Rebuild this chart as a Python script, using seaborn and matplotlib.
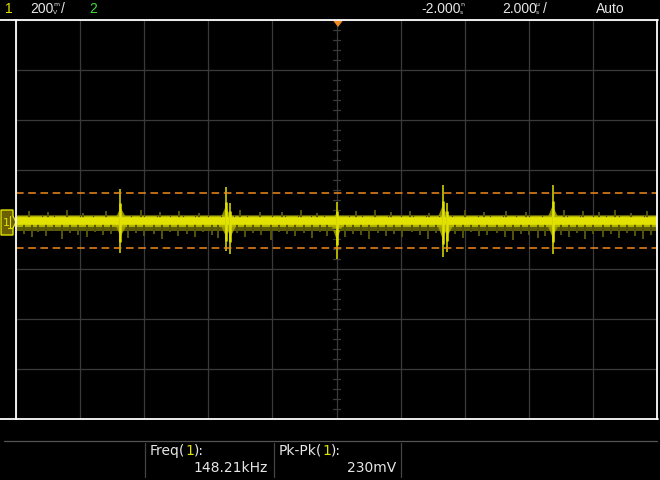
import numpy as np
import pandas as pd
import matplotlib
matplotlib.use('Agg')
import matplotlib.pyplot as plt
import seaborn as sns
from matplotlib.patches import Polygon

# scope settings
volts_per_div = 200      # mV
time_per_div = 2.0       # us
trig_delay_label = '-2.000'
freq_label = '148.21kHz'
pkpk_label = '230mV'

# trace (time in us, voltage in mV)
band_t = [-10, 10]
trace_level = -8
mid_half = 22
dim_top = 26
dim_bottom = -40

spike_t = [-6.74, -3.46, -3.31, 0.0, 3.31, 3.46, 6.74]
spike_hi = [124, 132, 68, 72, 140, 68, 140]
spike_lo = [-136, -128, -140, -160, -152, -132, -140]

noise_lo_t = [-9.75, -9.5, -9.3, -9.05, -8.8, -8.55, -8.3, -8.05, -7.8, -7.55, -7.3, -7.05,
              -6.5, -6.25, -6.0, -5.7, -5.45, -5.2, -4.95, -4.65, -4.4, -4.15, -3.9, -3.7,
              -3.1, -2.85, -2.6, -2.35, -2.05, -1.8, -1.55, -1.3, -1.0, -0.75, -0.5, -0.3,
              0.25, 0.5, 0.75, 1.0, 1.3, 1.55, 1.8, 2.05, 2.35, 2.6, 2.85, 3.1,
              3.7, 3.95, 4.2, 4.45, 4.7, 5.0, 5.25, 5.5, 5.75, 6.0, 6.3, 6.5,
              7.0, 7.25, 7.5, 7.75, 8.0, 8.3, 8.55, 8.8, 9.05, 9.3, 9.55, 9.8]
noise_lo_v = [-60, -72, -52, -66, -48, -78, -56, -64, -70, -50, -62, -58,
              -74, -54, -68, -60, -80, -52, -66, -58, -72, -50, -64, -76,
              -56, -70, -54, -62, -82, -50, -60, -68, -56, -74, -52, -66,
              -70, -58, -62, -80, -54, -66, -60, -72, -50, -64, -78, -56,
              -60, -74, -52, -68, -62, -56, -70, -84, -58, -64, -76, -66,
              -62, -72, -54, -80, -58, -70, -60, -76, -56, -68, -80, -62]
noise_up_t = [-9.6, -9.0, -8.4, -7.9, -7.2, -6.1, -5.5, -4.9, -4.3, -3.0,
              -2.4, -1.7, -1.1, -0.6, 0.6, 1.2, 1.7, 2.3, 2.9, 4.0,
              4.6, 5.3, 5.9, 7.1, 7.7, 8.2, 8.7, 9.2, 9.7]
noise_up_v = [36, 30, 40, 28, 34, 38, 30, 36, 28, 40,
              32, 30, 38, 28, 36, 40, 30, 34, 28, 38,
              30, 36, 32, 40, 34, 30, 38, 28, 36]

thresh_hi = 108
thresh_lo = -116

YEL = '#e2e200'
YEL_MID = '#b0b000'
YEL_DIM = '#5e5e08'
YEL_FAINT = '#55550c'
ORANGE = '#f08a1c'
GRID = '#3a3a3a'
TXT = '#e6e6e6'

sns.set_style('dark')
plt.rcParams['font.family'] = ['DejaVu Sans']

fig = plt.figure(figsize=(6.6, 4.8), dpi=100, facecolor='black')
W, H = 660, 480
ax = fig.add_axes([16 / W, 61 / H, 641 / W, 399 / H])
ax.set_facecolor('black')
ax.set_xlim(-5 * time_per_div, 5 * time_per_div)
ax.set_ylim(-4 * volts_per_div, 4 * volts_per_div)
ax.set_xticks(np.arange(-10, 11, time_per_div))
ax.set_yticks(np.arange(-800, 801, volts_per_div))
ax.grid(True, color=GRID, lw=0.9)
ax.tick_params(length=0, labelbottom=False, labelleft=False)
for s in ax.spines.values():
    s.set_visible(False)

# minor center ticks
for v in np.arange(-800, 801, volts_per_div / 5):
    ax.plot([-0.12, 0.12], [v, v], color=GRID, lw=0.9)
for t in np.arange(-10, 10.01, time_per_div / 5):
    ax.plot([t, t], [-16, 16], color=GRID, lw=0.9)

# trace band
ax.fill_between(band_t, [trace_level + dim_bottom] * 2, [trace_level + dim_top] * 2,
                color=YEL_DIM, lw=0)
# noise fringe
ax.vlines(noise_lo_t, trace_level, noise_lo_v, color=YEL_FAINT, lw=1.4)
ax.vlines(noise_up_t, trace_level, noise_up_v, color=YEL_FAINT, lw=1.4)
ax.fill_between(band_t, [trace_level - mid_half] * 2, [trace_level + mid_half] * 2,
                color=YEL_MID, lw=0)
df = pd.DataFrame({'t': band_t, 'v': [trace_level] * 2})
sns.lineplot(data=df, x='t', y='v', ax=ax, color=YEL, lw=5.5)

# spikes
for t, hi, lo in zip(spike_t, spike_hi, spike_lo):
    ax.add_patch(Polygon([(t - 0.2, trace_level), (t, trace_level + 0.45 * hi),
                          (t + 0.25, trace_level), (t, trace_level + 0.45 * lo)],
                         closed=True, color=YEL_MID, lw=0, alpha=0.8))
    ax.vlines(t, lo, hi, color=YEL_MID, lw=1.4)
    ax.vlines(t, trace_level + 0.6 * lo, trace_level + 0.6 * hi, color=YEL, lw=1.8)

ax.axhline(thresh_hi, color=ORANGE, lw=1.1, ls=(0, (5, 3)))
ax.axhline(thresh_lo, color=ORANGE, lw=1.1, ls=(0, (5, 3)))

# overlay in pixel coordinates
ov = fig.add_axes([0, 0, 1, 1])
ov.set_xlim(0, W)
ov.set_ylim(H, 0)
ov.axis('off')
ov.patch.set_alpha(0)

ov.plot([0, 658], [20, 20], color='white', lw=1.3)
ov.plot([0, 658], [419, 419], color='white', lw=1.3)
ov.plot([16, 16], [20, 419], color='white', lw=1.3)
ov.plot([657, 657], [20, 419], color='white', lw=1.3)
ov.plot([4, 657], [441, 441], color='#555555', lw=0.9)
for x in [145, 274, 401]:
    ov.plot([x, x], [443, 477], color='#444444', lw=0.9)

# trigger marker
ov.add_patch(Polygon([(333, 20.5), (343, 20.5), (338, 27)], closed=True, color=ORANGE, lw=0))

# channel marker
ov.add_patch(Polygon([(1, 210), (13, 210), (13, 216), (16, 222), (13, 228), (13, 235), (1, 235)],
                     closed=True, facecolor='#6a6000', edgecolor=YEL, lw=1))
ov.text(6, 223, '1', color=YEL, fontsize=8, ha='center', va='center')
ov.plot([10, 10], [216, 228], color=YEL, lw=0.8)
ov.plot([8, 12], [228, 228], color=YEL, lw=0.8)

top_font = dict(fontsize=10, va='center', family=['Liberation Sans', 'DejaVu Sans'])
small = dict(fontsize=4.5, va='center', color=TXT)
ov.text(5, 9, '1', color=YEL, **top_font)
ov.text(30, 9, '200', color=TXT, **top_font)
ov.text(53, 4.5, 'm', **small)
ov.text(53, 13, 'V', **small)
ov.text(61, 9, '/', color=TXT, **top_font)
ov.text(89, 9, '2', color='#3cdc3c', **top_font)
ov.text(421, 9, trig_delay_label, color=TXT, **top_font)
ov.text(460, 4.5, 'n', **small)
ov.text(460, 13, 's', **small)
ov.text(502, 9, '2.000', color=TXT, **top_font)
ov.text(536, 4.5, 'μ', **small)
ov.text(536, 13, 's', **small)
ov.text(543, 9, '/', color=TXT, **top_font)
ov.text(596, 9, 'Auto', color=TXT, **top_font)

# measurements
mf = dict(fontsize=10, va='center', color=TXT)
for x0, name in [(150, 'Freq('), (279, 'Pk-Pk(')]:
    t1 = ov.text(x0, 451, name, **mf)
    t2 = ov.annotate('1', xy=(1, 0), xycoords=t1, va='bottom', fontsize=10, color=YEL)
    ov.annotate('):', xy=(1, 0), xycoords=t2, va='bottom', fontsize=10, color=TXT)
ov.text(268, 468, freq_label, ha='right', **mf)
ov.text(396, 468, pkpk_label, ha='right', **mf)

fig.savefig('out.png', dpi=100, facecolor='black')
